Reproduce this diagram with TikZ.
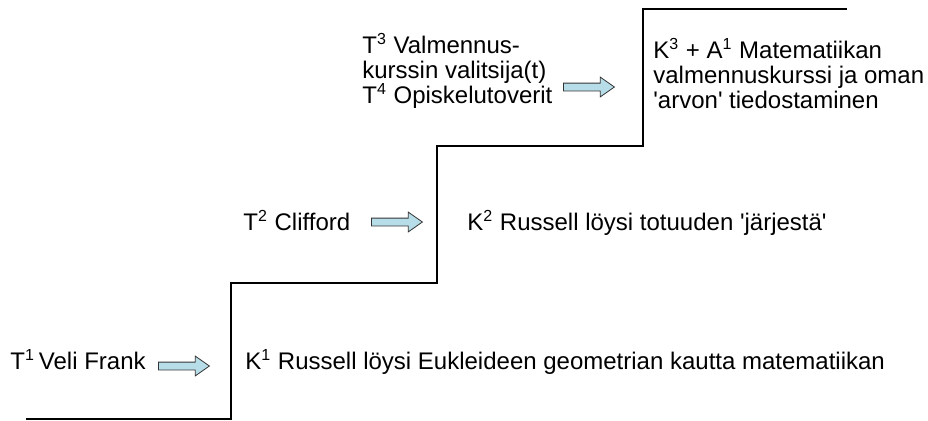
\documentclass[tikz,border=0pt]{standalone}
\usepackage{fontspec}
\setmainfont{Liberation Sans}
\usepackage{xcolor}
\definecolor{paleblue}{HTML}{B7DDE8}
\usetikzlibrary{shapes.arrows,positioning}
\tikzset{
    x=0.5pt,y=-0.5pt,
    stair/.style={line width=1pt, line join=miter},
    txt/.style={anchor=base west, inner sep=0pt, align=left, font=\fontsize{12}{12.4}\selectfont},
    blockarrow/.style={single arrow, draw=black!80, line width=0.4pt, fill=paleblue, inner sep=1.75pt,
        minimum height=25.5pt, single arrow head extend=3pt, single arrow tip angle=70, anchor=tail}
}
\newcommand\up[1]{\textsuperscript{#1}}
\newcommand\q{\textquotesingle}

\begin{document}
\begin{tikzpicture}
      \useasboundingbox (0,0) rectangle (928,420);
      % the stairs
      \draw[stair] (26,419) -| (231,283) -| (437,146) -| (643,9) -- (847,9);

      % step 1
      \node[txt] (T1) at (10,369) {T\up{1}\,Veli Frank};
      \node[blockarrow] (a1) at (158,366) {};
      \node[txt] (K1) at (245,369) {K\up{1} Russell löysi Eukleideen geometrian kautta matematiikan};

      % step 2
      \node[txt] (T2) at (243,230) {T\up{2} Clifford};
      \node[blockarrow] (a2) at (371,222) {};
      \node[txt] (K2) at (467,230) {K\up{2} Russell löysi totuuden \q järjestä\q};

      % step 3 (base = last line)
      \node[txt] (T3) at (362,103) {T\up{3} Valmennus-\\kurssin valitsija(t)\\T\up{4} Opiskelutoverit};
      \node[blockarrow] (a3) at (563,87) {};
      \node[txt] (K3) at (653,108) {K\up{3} + A\up{1} Matematiikan\\valmennuskurssi ja oman\\\q arvon\q{} tiedostaminen};
\end{tikzpicture}
\end{document}
